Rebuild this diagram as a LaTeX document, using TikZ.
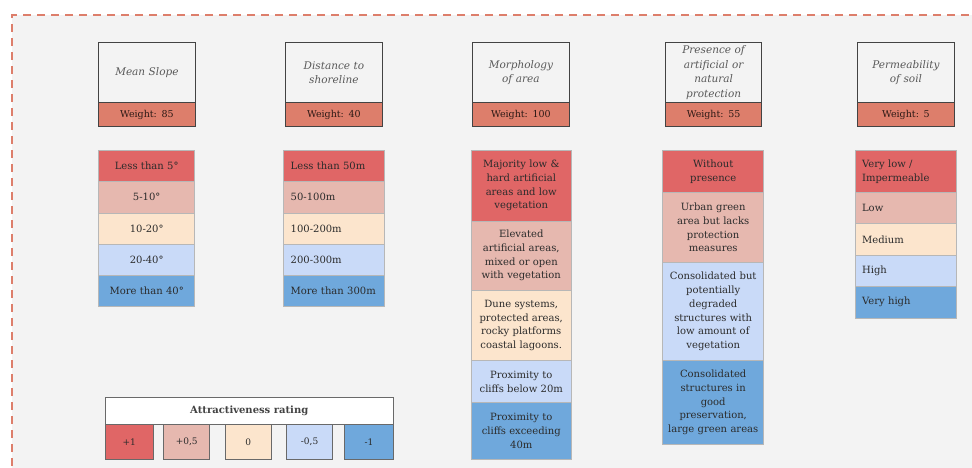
\documentclass[tikz,border=0pt]{standalone}
\usepackage{fontspec}
\setmainfont{DejaVu Serif}
\definecolor{cRed}{HTML}{E06666}
\definecolor{cPink}{HTML}{E6B8AF}
\definecolor{cPeach}{HTML}{FCE5CD}
\definecolor{cLBlue}{HTML}{C9DAF8}
\definecolor{cBlue}{HTML}{6FA8DC}
\definecolor{cWeight}{HTML}{DD7E6B}
\definecolor{cBg}{HTML}{F3F3F3}
\definecolor{cEdge}{HTML}{434343}
\definecolor{cRowEdge}{HTML}{B7B7B7}
\definecolor{cHeadText}{HTML}{595959}
\definecolor{cText}{HTML}{2B2B2B}
\tikzset{
  cellc/.style={draw=cRowEdge, line width=0.8pt, anchor=north west, inner xsep=3pt, inner ysep=0pt,
    align=center, font=\fontsize{10}{13.7}\selectfont, text=cText},
  celll/.style={cellc, inner xsep=7pt, align=left},
  headbox/.style={draw=cEdge, fill=cBg, line width=0.9pt, anchor=north west, inner sep=0pt,
    minimum width=96.3pt, text width=96.3pt, minimum height=60pt, align=center,
    font=\fontsize{10.5}{14.5}\selectfont\itshape, text=cHeadText},
  weightbox/.style={draw=cEdge, fill=cWeight, line width=0.9pt, anchor=north west, inner sep=0pt,
    minimum width=96.3pt, text width=96.3pt, minimum height=23.4pt, align=center,
    font=\fontsize{9.5}{12}\selectfont, text=black!80!cWeight},
  swatch/.style={draw=cEdge!80, line width=0.8pt, anchor=north west, inner sep=0pt,
    minimum height=34.4pt, font=\fontsize{9}{11}\selectfont, text=cText},
}
\begin{document}
\begin{tikzpicture}[x=1pt,y=-1pt]
\useasboundingbox (0,0) rectangle (972,467);
\clip (0,0) rectangle (972,467);
\fill[white] (0,0) rectangle (972,467);
\fill[cBg] (12,15) rectangle (980,480);
\draw[cWeight, line width=1.8pt, dash pattern=on 8pt off 6pt] (12,480) -- (12,15) -- (990,15);

% headers
\node[headbox] (h1) at (98.3,42.3) {Mean Slope};
\node[weightbox] (w1) at (98.3,102.3) {Weight: 85};
\node[headbox] (h2) at (285.3,42.3) {Distance to\\shoreline};
\node[weightbox] (w2) at (285.3,102.3) {Weight: 40};
\node[headbox] (h3) at (472.3,42.3) {Morphology\\of area};
\node[weightbox] (w3) at (472.3,102.3) {Weight: 100};
\node[headbox] (h4) at (665,42.3) {Presence of\\artificial or\\natural\\protection};
\node[weightbox] (w4) at (665,102.3) {Weight: 55};
\node[headbox] (h5) at (857.3,42.3) {Permeability\\of soil};
\node[weightbox] (w5) at (857.3,102.3) {Weight: 5};

% column 1
\begin{scope}[every node/.append style={cellc, text width=90pt, minimum height=31.2pt}]
\node[fill=cRed] (a1) at (98.3,150) {Less than 5°};
\node[fill=cPink] (a2) at (98.3,181.3) {5-10°};
\node[fill=cPeach] (a3) at (98.3,212.6) {10-20°};
\node[fill=cLBlue] (a4) at (98.3,243.8) {20-40°};
\node[fill=cBlue] (a5) at (98.3,275) {More than 40°};
\end{scope}

% column 2
\begin{scope}[every node/.append style={celll, text width=87pt, minimum height=31.2pt}]
\node[fill=cRed] (b1) at (283.3,150) {Less than 50m};
\node[fill=cPink] (b2) at (283.3,181.3) {50-100m};
\node[fill=cPeach] (b3) at (283.3,212.6) {100-200m};
\node[fill=cLBlue] (b4) at (283.3,243.8) {200-300m};
\node[fill=cBlue] (b5) at (283.3,275) {More than 300m};
\end{scope}

% column 3
\begin{scope}[every node/.append style={cellc, text width=94.3pt}]
\node[fill=cRed, minimum height=70.7pt] (c1) at (470.7,150) {Majority low \&\\hard artificial\\areas and low\\vegetation};
\node[fill=cPink, minimum height=69.3pt] (c2) at (470.7,220.7) {Elevated\\artificial areas,\\mixed or open\\with vegetation};
\node[fill=cPeach, minimum height=70pt] (c3) at (470.7,290) {Dune systems,\\protected areas,\\rocky platforms\\coastal lagoons.};
\node[fill=cLBlue, minimum height=42.3pt] (c4) at (470.7,360) {Proximity to\\cliffs below 20m};
\node[fill=cBlue, minimum height=56.7pt] (c5) at (470.7,402.3) {Proximity to\\cliffs exceeding\\40m};
\end{scope}

% column 4
\begin{scope}[every node/.append style={cellc, text width=95pt}]
\node[fill=cRed, minimum height=42.3pt] (d1) at (662.3,150) {Without\\presence};
\node[fill=cPink, minimum height=70pt] (d2) at (662.3,192.3) {Urban green\\area but lacks\\protection\\measures};
\node[fill=cLBlue, minimum height=97.7pt] (d3) at (662.3,262.3) {Consolidated but\\potentially\\degraded\\structures with\\low amount of\\vegetation};
\node[fill=cBlue, minimum height=84pt] (d4) at (662.3,360) {Consolidated\\structures in\\good\\preservation,\\large green areas};
\end{scope}

% column 5
\begin{scope}[every node/.append style={celll, text width=87pt}]
\node[fill=cRed, minimum height=42.3pt] (e1) at (854.7,150) {Very low /\\Impermeable};
\node[fill=cPink, minimum height=31pt] (e2) at (854.7,192.3) {Low};
\node[fill=cPeach, minimum height=31.7pt] (e3) at (854.7,223.3) {Medium};
\node[fill=cLBlue, minimum height=31pt] (e4) at (854.7,255) {High};
\node[fill=cBlue, minimum height=31.7pt] (e5) at (854.7,286) {Very high};
\end{scope}

% legend
\node[draw=cEdge!80, fill=white, line width=0.8pt, anchor=north west, inner sep=0pt,
  minimum width=287.7pt, minimum height=27pt, font=\fontsize{10}{12}\selectfont\bfseries, text=cEdge]
  (lt) at (105,397.3) {Attractiveness rating};
\node[swatch, fill=cRed, minimum width=47.7pt] (l1) at (105,424.3) {+1};
\node[swatch, fill=cPink, minimum width=46pt] (l2) at (163.3,424.3) {+0,5};
\node[swatch, fill=cPeach, minimum width=46.3pt] (l3) at (224.7,424.3) {0};
\node[swatch, fill=cLBlue, minimum width=46.3pt] (l4) at (286,424.3) {-0,5};
\node[swatch, fill=cBlue, minimum width=48.4pt] (l5) at (344.3,424.3) {-1};
\end{tikzpicture}
\end{document}
